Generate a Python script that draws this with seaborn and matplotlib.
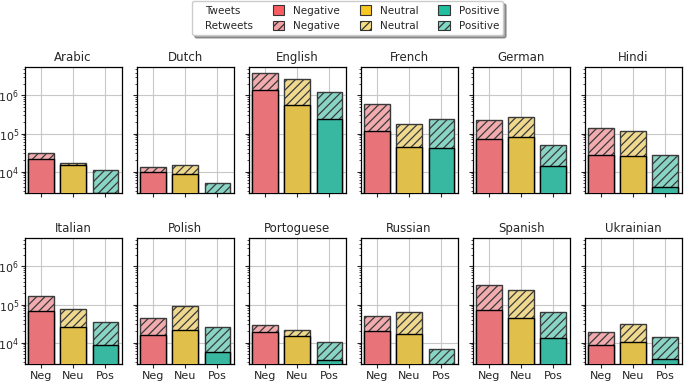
import matplotlib
matplotlib.use("Agg")
import matplotlib.pyplot as plt
from matplotlib.patches import Patch
from matplotlib.legend_handler import HandlerBase
import seaborn as sns
import pandas as pd

languages = ['Arabic', 'Dutch', 'English', 'French', 'German', 'Hindi',
             'Italian', 'Polish', 'Portoguese', 'Russian', 'Spanish', 'Ukrainian']
sentiments = ['Neg', 'Neu', 'Pos']

tweets_neg = [21800, 9800, 1.43e6, 1.2e5, 7.4e4, 2.7e4, 6.6e4, 1.6e4, 1.9e4, 2.05e4, 7.0e4, 8400]
tweets_neu = [15200, 8900, 5.6e5, 4.3e4, 8.3e4, 2.55e4, 2.5e4, 2.14e4, 1.47e4, 1.68e4, 4.3e4, 10200]
tweets_pos = [2800, 2000, 2.42e5, 4.07e4, 1.43e4, 3900, 8400, 5800, 3550, 2000, 1.35e4, 3800]

retweets_neg = [8200, 3700, 2.42e6, 4.76e5, 1.54e5, 1.14e5, 1.05e5, 2.7e4, 9300, 2.98e4, 2.6e5, 10200]
retweets_neu = [1600, 5600, 2.14e6, 1.36e5, 1.9e5, 9.45e4, 5.05e4, 6.96e4, 7100, 4.72e4, 1.96e5, 20400]
retweets_pos = [8000, 2950, 9.58e5, 1.95e5, 3.47e4, 2.39e4, 2.66e4, 1.98e4, 6650, 4600, 4.85e4, 10000]

solid_colors = ['#e8747a', '#e0bf4a', '#38b8a0']
light_colors = ['#f2abae', '#efd98e', '#88d5c6']
legend_solid = ['#f95d62', '#f8c722', '#1fbf9f']
legend_light = ['#f7a0a3', '#f6dc82', '#7fd9c6']

sns.set_style('ticks')
plt.rcParams['font.family'] = ['DejaVu Sans']
plt.rcParams['hatch.linewidth'] = 0.9

fig, axes = plt.subplots(2, 6, figsize=(6.85, 3.83), dpi=100, sharey=True)
fig.subplots_adjust(left=0.036, right=0.995, top=0.825, bottom=0.049,
                    wspace=0.155, hspace=0.355)

for i, ax in enumerate(axes.flat):
    tw = [tweets_neg[i], tweets_neu[i], tweets_pos[i]]
    rt = [retweets_neg[i], retweets_neu[i], retweets_pos[i]]
    df = pd.DataFrame({'sentiment': sentiments,
                       'tweets': tw,
                       'total': [a + b for a, b in zip(tw, rt)]})
    sns.barplot(data=df, x='sentiment', y='total', hue='sentiment',
                palette=light_colors, legend=False, ax=ax, width=0.8,
                saturation=1, edgecolor='#3a3a3a', linewidth=1.0,
                hatch='////', zorder=2)
    sns.barplot(data=df, x='sentiment', y='tweets', hue='sentiment',
                palette=solid_colors, legend=False, ax=ax, width=0.8,
                saturation=1, edgecolor='black', linewidth=1.0, zorder=3)
    ax.set_yscale('log')
    ax.set_ylim(2.7e3, 5.6e6)
    ax.set_xlim(-0.5, 2.5)
    ax.set_title(languages[i], fontsize=8.5, pad=4)
    ax.set_xlabel('')
    ax.set_ylabel('')
    ax.grid(True, which='major', color='#c8c8c8', linewidth=0.8)
    ax.set_axisbelow(True)
    for s in ax.spines.values():
        s.set_visible(True)
        s.set_color('black')
        s.set_linewidth(0.9)
    ax.tick_params(axis='x', which='major', labelsize=8, length=3, width=0.8, pad=2)
    ax.tick_params(axis='y', which='major', labelsize=8, length=3, width=0.8, pad=1)
    ax.tick_params(axis='y', which='minor', length=1.8, width=0.6)
    if i < 6:
        ax.tick_params(axis='x', labelbottom=False)
    if i % 6 != 0:
        ax.tick_params(axis='y', which='both', labelleft=False)


class BlankHandler(HandlerBase):
    def legend_artist(self, legend, orig_handle, fontsize, handlebox):
        handlebox.width = 0
        p = Patch(visible=False)
        handlebox.add_artist(p)
        return p


class Blank:
    pass


b1, b2 = Blank(), Blank()
handles = [b1, b2]
labels = ['Tweets', 'Retweets']
names = ['Negative', 'Neutral', 'Positive']
for k in range(3):
    handles.append(Patch(facecolor=legend_solid[k], edgecolor='#333333', linewidth=0.8))
    handles.append(Patch(facecolor=legend_light[k], edgecolor='#333333', linewidth=0.8, hatch='////'))
    labels += [names[k], names[k]]

fig.legend(handles, labels, ncol=4, loc='upper left',
           bbox_to_anchor=(192 / 685, 0.997), borderaxespad=0, fontsize=7.5,
           handler_map={Blank: BlankHandler()},
           handlelength=1.1, handleheight=1.0, handletextpad=0.85,
           columnspacing=1.9, labelspacing=0.5, borderpad=0.4,
           frameon=True, fancybox=True, shadow=True, edgecolor='#cccccc')

fig.savefig('out.png', dpi=100)
